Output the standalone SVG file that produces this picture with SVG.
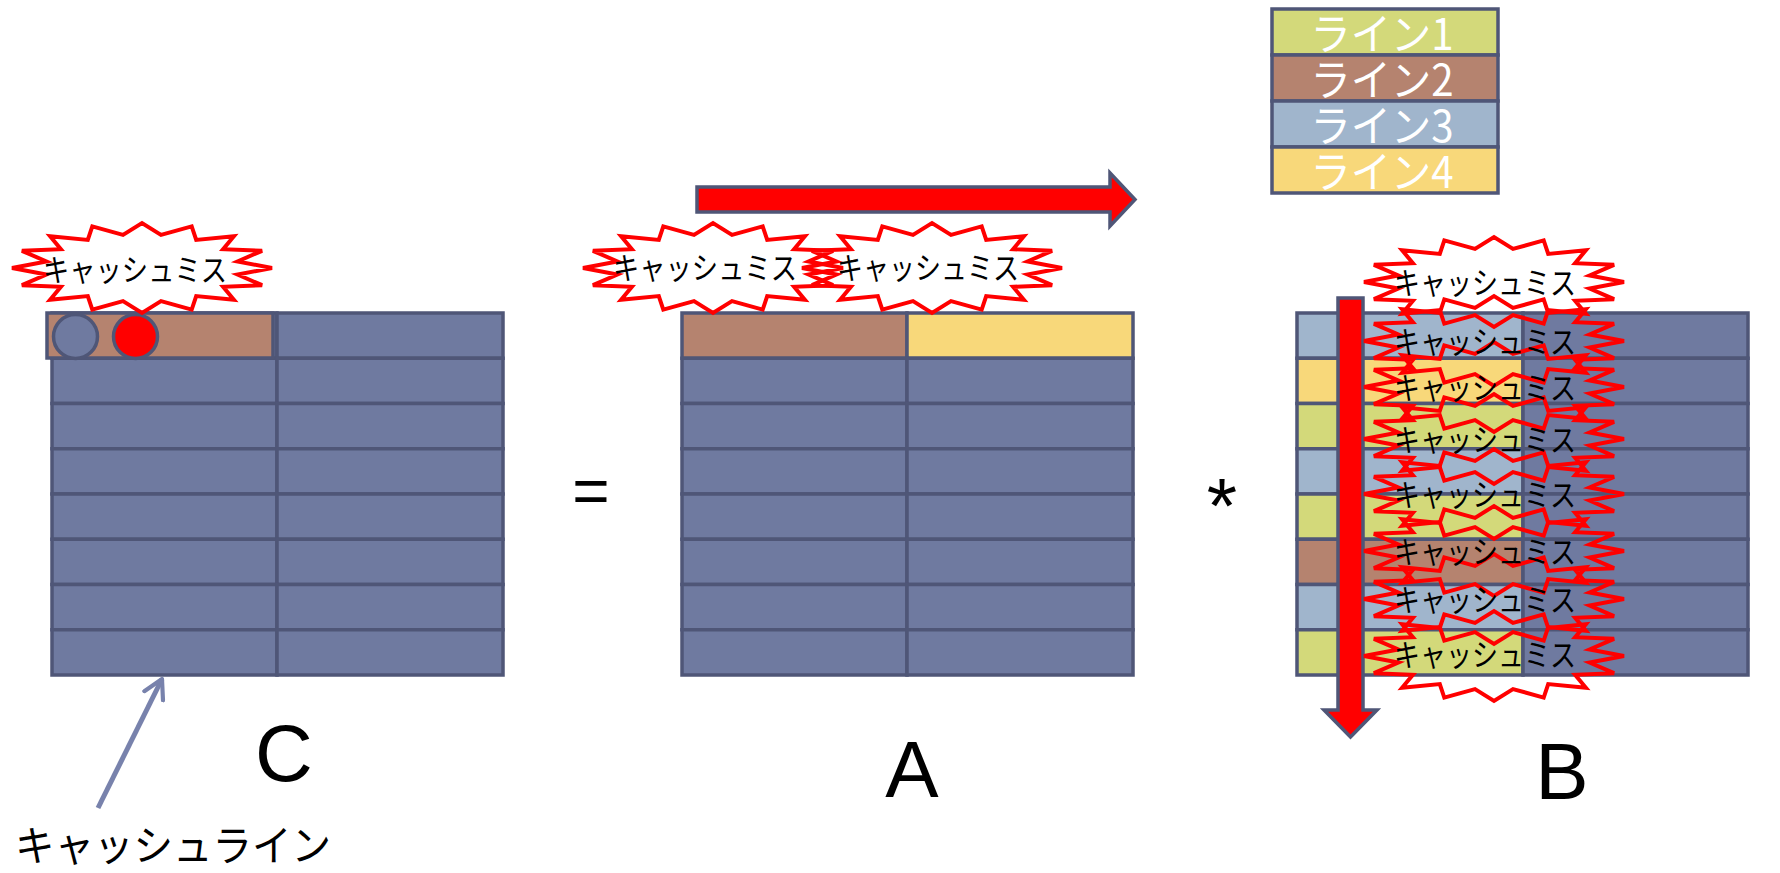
<svg xmlns="http://www.w3.org/2000/svg" width="1780" height="873" viewBox="0 0 1780 873">
<style>
.cell{fill:#6F7AA0;stroke:#4F5677;stroke-width:3.5}
.br{fill:#B5836F}
.ye{fill:#F8D87A}
.gr{fill:#D3D97A}
.bl{fill:#A0B5CC}
.burst{fill:none;stroke:#FF0000;stroke-width:4;stroke-linejoin:miter}
.bt{font-family:"Noto Sans CJK JP","Noto Sans CJK SC",sans-serif;font-size:31px;fill:#000;text-anchor:middle}
.lg{font-family:"Noto Sans CJK JP","Noto Sans CJK SC",sans-serif;font-size:43px;fill:#FFFFFF;text-anchor:middle}
.big{font-family:"Liberation Sans",Arial,sans-serif;font-size:80px;fill:#000;text-anchor:middle}
.red{fill:#FF0000;stroke:#4F5677;stroke-width:3.5;stroke-linejoin:miter}
</style>
<defs>
<polygon id="star" points="130,0 95.6,-6.6 120.1,-17.2 81.1,-18.8 91.9,-31.8 54.2,-28.1 49.7,-41.6 19,-33.1 0,-45 -19,-33.1 -49.7,-41.6 -54.2,-28.1 -91.9,-31.8 -81.1,-18.8 -120.1,-17.2 -95.6,-6.6 -130,0 -95.6,6.6 -120.1,17.2 -81.1,18.8 -91.9,31.8 -54.2,28.1 -49.7,41.6 -19,33.1 0,45 19,33.1 49.7,41.6 54.2,28.1 91.9,31.8 81.1,18.8 120.1,17.2 95.6,6.6"/>
<marker id="openArrow" viewBox="0 0 12 12" refX="10" refY="6" markerWidth="5" markerHeight="5" orient="auto" markerUnits="strokeWidth">
<path d="M1,1 L10,6 L1,11" fill="none" stroke="#7882AC" stroke-width="2" stroke-linecap="round" stroke-linejoin="round"/>
</marker>
</defs>

<g id="matrix-C">
<rect class="cell" x="52" y="313" width="225" height="45.25"/><rect class="cell" x="277" y="313" width="226" height="45.25"/>
<rect class="cell" x="52" y="358.25" width="225" height="45.25"/><rect class="cell" x="277" y="358.25" width="226" height="45.25"/>
<rect class="cell" x="52" y="403.5" width="225" height="45.25"/><rect class="cell" x="277" y="403.5" width="226" height="45.25"/>
<rect class="cell" x="52" y="448.75" width="225" height="45.25"/><rect class="cell" x="277" y="448.75" width="226" height="45.25"/>
<rect class="cell" x="52" y="494" width="225" height="45.25"/><rect class="cell" x="277" y="494" width="226" height="45.25"/>
<rect class="cell" x="52" y="539.25" width="225" height="45.25"/><rect class="cell" x="277" y="539.25" width="226" height="45.25"/>
<rect class="cell" x="52" y="584.5" width="225" height="45.25"/><rect class="cell" x="277" y="584.5" width="226" height="45.25"/>
<rect class="cell" x="52" y="629.75" width="225" height="45.25"/><rect class="cell" x="277" y="629.75" width="226" height="45.25"/>
<rect class="cell br" x="47" y="313" width="226" height="45"/>
<circle class="cell" cx="75.5" cy="336.5" r="22"/>
<circle class="cell" cx="135.5" cy="336.5" r="22" style="fill:#FF0000"/>
</g>

<g id="matrix-A">
<rect class="cell br" x="682" y="313" width="225" height="45.25"/><rect class="cell ye" x="907" y="313" width="226" height="45.25"/>
<rect class="cell" x="682" y="358.25" width="225" height="45.25"/><rect class="cell" x="907" y="358.25" width="226" height="45.25"/>
<rect class="cell" x="682" y="403.5" width="225" height="45.25"/><rect class="cell" x="907" y="403.5" width="226" height="45.25"/>
<rect class="cell" x="682" y="448.75" width="225" height="45.25"/><rect class="cell" x="907" y="448.75" width="226" height="45.25"/>
<rect class="cell" x="682" y="494" width="225" height="45.25"/><rect class="cell" x="907" y="494" width="226" height="45.25"/>
<rect class="cell" x="682" y="539.25" width="225" height="45.25"/><rect class="cell" x="907" y="539.25" width="226" height="45.25"/>
<rect class="cell" x="682" y="584.5" width="225" height="45.25"/><rect class="cell" x="907" y="584.5" width="226" height="45.25"/>
<rect class="cell" x="682" y="629.75" width="225" height="45.25"/><rect class="cell" x="907" y="629.75" width="226" height="45.25"/>
</g>

<g id="matrix-B">
<rect class="cell bl" x="1297" y="313" width="226" height="45.25"/><rect class="cell" x="1523" y="313" width="225" height="45.25"/>
<rect class="cell ye" x="1297" y="358.25" width="226" height="45.25"/><rect class="cell" x="1523" y="358.25" width="225" height="45.25"/>
<rect class="cell gr" x="1297" y="403.5" width="226" height="45.25"/><rect class="cell" x="1523" y="403.5" width="225" height="45.25"/>
<rect class="cell bl" x="1297" y="448.75" width="226" height="45.25"/><rect class="cell" x="1523" y="448.75" width="225" height="45.25"/>
<rect class="cell gr" x="1297" y="494" width="226" height="45.25"/><rect class="cell" x="1523" y="494" width="225" height="45.25"/>
<rect class="cell br" x="1297" y="539.25" width="226" height="45.25"/><rect class="cell" x="1523" y="539.25" width="225" height="45.25"/>
<rect class="cell bl" x="1297" y="584.5" width="226" height="45.25"/><rect class="cell" x="1523" y="584.5" width="225" height="45.25"/>
<rect class="cell gr" x="1297" y="629.75" width="226" height="45.25"/><rect class="cell" x="1523" y="629.75" width="225" height="45.25"/>
</g>

<g id="legend">
<rect class="cell gr" x="1272" y="9" width="226" height="46"/>
<rect class="cell br" x="1272" y="55" width="226" height="46"/>
<rect class="cell bl" x="1272" y="101" width="226" height="46"/>
<rect class="cell ye" x="1272" y="147" width="226" height="46"/>
<text class="lg" x="1382" y="50" textLength="143" lengthAdjust="spacingAndGlyphs">ライン1</text>
<text class="lg" x="1382" y="96" textLength="143" lengthAdjust="spacingAndGlyphs">ライン2</text>
<text class="lg" x="1382" y="142" textLength="143" lengthAdjust="spacingAndGlyphs">ライン3</text>
<text class="lg" x="1382" y="188" textLength="143" lengthAdjust="spacingAndGlyphs">ライン4</text>
</g>

<g id="connectors">
<polygon class="red" points="697,187 1110,187 1110,173 1135,199.5 1110,226 1110,212 697,212"/>
<polygon class="red" points="1338,298 1363,298 1363,710 1377,710 1350.5,737 1324,710 1338,710"/>
<line x1="98" y1="808" x2="162" y2="679" stroke="#7882AC" stroke-width="5" stroke-linecap="butt" marker-end="url(#openArrow)"/>
</g>

<g id="burst-C">
<use href="#star" class="burst" x="142" y="268"/>
<text class="bt" x="135" y="281" textLength="184" lengthAdjust="spacingAndGlyphs">キャッシュミス</text>
</g>
<g id="burst-A1">
<use href="#star" class="burst" x="713" y="268"/>
<text class="bt" x="705" y="279" textLength="184" lengthAdjust="spacingAndGlyphs">キャッシュミス</text>
</g>
<g id="burst-A2">
<use href="#star" class="burst" x="932" y="268"/>
<text class="bt" x="928" y="279" textLength="182" lengthAdjust="spacingAndGlyphs">キャッシュミス</text>
</g>
<g id="bursts-B">
<use href="#star" class="burst" x="1494" y="282"/>
<use href="#star" class="burst" x="1494" y="341"/>
<use href="#star" class="burst" x="1494" y="387"/>
<use href="#star" class="burst" x="1494" y="439"/>
<use href="#star" class="burst" x="1494" y="494"/>
<use href="#star" class="burst" x="1494" y="551"/>
<use href="#star" class="burst" x="1494" y="599"/>
<use href="#star" class="burst" x="1494" y="656"/>
<text class="bt" x="1485" y="294" textLength="182" lengthAdjust="spacingAndGlyphs">キャッシュミス</text>
<text class="bt" x="1485" y="353" textLength="182" lengthAdjust="spacingAndGlyphs">キャッシュミス</text>
<text class="bt" x="1485" y="399" textLength="182" lengthAdjust="spacingAndGlyphs">キャッシュミス</text>
<text class="bt" x="1485" y="451" textLength="182" lengthAdjust="spacingAndGlyphs">キャッシュミス</text>
<text class="bt" x="1485" y="506" textLength="182" lengthAdjust="spacingAndGlyphs">キャッシュミス</text>
<text class="bt" x="1485" y="563" textLength="182" lengthAdjust="spacingAndGlyphs">キャッシュミス</text>
<text class="bt" x="1485" y="611" textLength="182" lengthAdjust="spacingAndGlyphs">キャッシュミス</text>
<text class="bt" x="1485" y="666" textLength="182" lengthAdjust="spacingAndGlyphs">キャッシュミス</text>
</g>

<g id="labels">
<text class="big" x="284" y="781">C</text>
<text class="big" x="912" y="797">A</text>
<text class="big" x="1562" y="799">B</text>
<text class="big" x="591" y="513" style="font-size:64px">=</text>
<text class="big" x="1222" y="533" style="font-size:78px">*</text>
<text x="15" y="861" textLength="316" lengthAdjust="spacingAndGlyphs" style="font-family:'Noto Sans CJK JP','Noto Sans CJK SC',sans-serif;font-size:42px;fill:#000">キャッシュライン</text>
</g>
</svg>
